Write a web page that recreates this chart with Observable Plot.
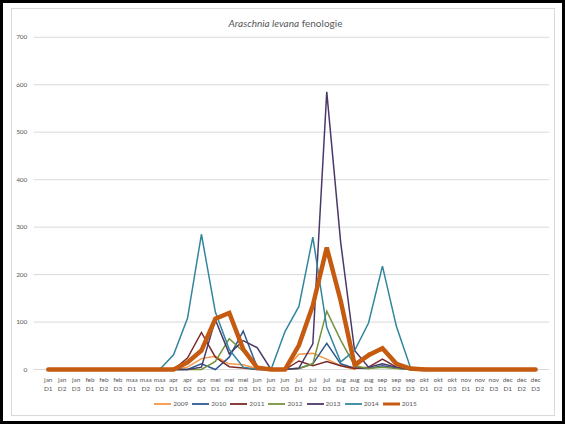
<!DOCTYPE html>
<html>
<head>
<meta charset="utf-8">
<script src="https://cdn.jsdelivr.net/npm/d3@7"></script>
<script src="https://cdn.jsdelivr.net/npm/@observablehq/plot@0.6"></script>
<style>
  html, body { margin: 0; padding: 0; background: #fff; }
  #wrap { position: relative; width: 565px; height: 424px; box-sizing: border-box; border: 3px solid #000; overflow: hidden; font-family: Lato, "Open Sans", sans-serif; }
  #inner { position: absolute; left: 8px; top: 5px; width: 544px; height: 408px; border: 1px solid #d9d9d9; box-sizing: border-box; }
  #chart { position: absolute; left: -3px; top: -3px; }
  #title { position: absolute; left: 0px; top: 14px; width: 565px; text-align: center; font-size: 10px; color: #595959; }
  #legend { position: absolute; left: 0px; top: 397px; width: 565px; display: flex; justify-content: center; font-size: 6.5px; color: #595959; }
  .item { display: flex; align-items: center; margin: 0 2px; }
  .item svg { margin-right: 2px; }
</style>
</head>
<body>
<div id="wrap">
  <div id="inner"></div>
  <div id="chart"></div>
  <div id="title"><i>Araschnia levana</i> fenologie</div>
  <div id="legend"></div>
</div>
<script>
const months = ["jan","feb","maa","apr","mei","jun","jul","aug","sep","okt","nov","dec"];
const decades = ["D1","D2","D3"];
const categories = months.flatMap(m => decades.map(d => m + " " + d));

const years = ["2009","2010","2011","2012","2013","2014","2015"];
const colors = ["#F79646","#2E5A8E","#7B2A2A","#76923C","#4A3868","#31859C","#C55A11"];
const widths = [1.5,1.5,1.5,1.5,1.5,1.5,4.5];

const v2009 = [0,0,0,0,0,0,0,0,0,0,5,23,28,12,10,2,0,0,32,34,22,8,0,35,40,12,2,3,0,0,0,0,0,0,0,0];
const v2010 = [0,0,0,0,0,0,0,0,0,0,0,12,0,26,81,5,0,0,2,12,55,12,3,2,8,3,0,0,0,0,0,0,0,0,0,0];
const v2011 = [0,0,0,0,0,0,0,0,0,0,24,78,26,6,3,0,0,0,18,8,17,8,2,5,22,5,0,0,0,0,0,0,0,0,0,0];
const v2012 = [0,0,0,0,0,0,0,0,0,0,0,0,17,65,38,2,0,0,2,12,123,62,8,2,5,2,0,0,0,0,0,0,0,0,0,0];
const v2013 = [0,0,0,0,0,0,0,0,0,0,0,5,105,33,61,46,0,0,3,54,585,268,40,5,12,5,0,0,0,0,0,0,0,0,0,0];
const v2014 = [0,0,0,0,0,0,0,0,0,31,108,285,121,42,5,0,0,80,133,279,89,16,40,98,218,91,5,0,0,0,0,0,0,0,0,0];
const v2015 = [0,0,0,0,0,0,0,0,0,0,15,40,107,119,43,4,0,0,51,135,257,145,10,30,45,12,2,0,0,0,0,0,0,0,0,0];
const series = [v2009, v2010, v2011, v2012, v2013, v2014, v2015];
const yTicks = [0,100,200,300,400,500,600,700];

const marks = [
  Plot.ruleY(yTicks, {stroke: "#d9d9d9", strokeWidth: 1}),
  Plot.axisY(yTicks, {tickSize: 0, tickPadding: 7, fontSize: 6.5, fill: "#595959", label: null}),
  Plot.axisX({tickSize: 0, tickPadding: 6, fontSize: 6.5, fill: "#595959", lineHeight: 1.45, label: null,
    tickFormat: d => d.replace(" ", "\n")})
];
series.forEach((vals, i) => {
  const rows = categories.map((c, j) => ({cat: c, value: vals[j]}));
  marks.push(Plot.line(rows, {x: "cat", y: "value", stroke: colors[i], strokeWidth: widths[i], strokeLinejoin: "miter", strokeMiterlimit: 4}));
});

const chart = Plot.plot({
  width: 565,
  height: 424,
  marginTop: 37,
  marginBottom: 53,
  marginLeft: 34,
  marginRight: 13,
  style: {fontFamily: "Lato, 'Open Sans', sans-serif", background: "transparent", overflow: "visible", color: "#595959"},
  x: {type: "point", domain: categories, padding: 0.5},
  y: {domain: [0, 700]},
  marks
});
document.getElementById("chart").appendChild(chart);

const legend = document.getElementById("legend");
years.forEach((y, i) => {
  const item = document.createElement("div");
  item.className = "item";
  item.innerHTML = `<svg width="17" height="6"><line x1="0" y1="3" x2="17" y2="3" stroke="${colors[i]}" stroke-width="${i === 6 ? 3 : 1.8}"/></svg><span>${y}</span>`;
  legend.appendChild(item);
});
</script>
</body>
</html>
